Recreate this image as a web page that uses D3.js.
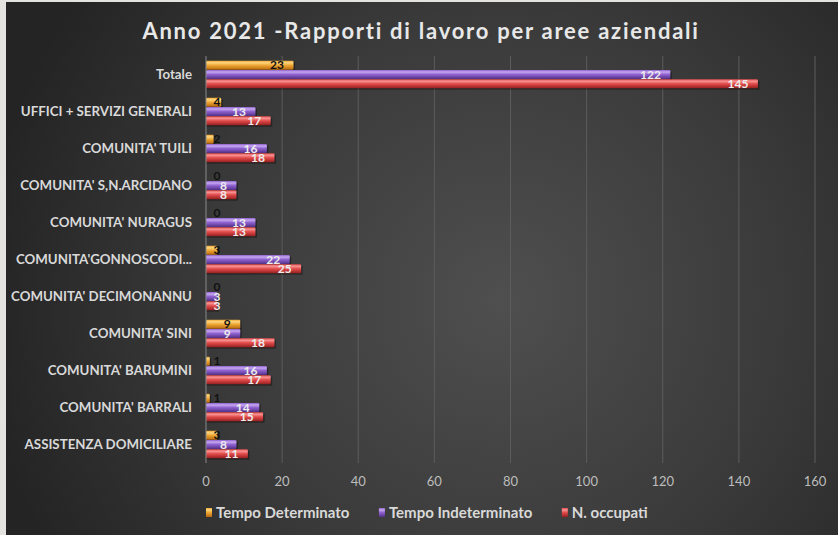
<!DOCTYPE html>
<html>
<head>
<meta charset="utf-8">
<script src="https://cdn.jsdelivr.net/npm/d3@7"></script>
<style>
  html, body { margin: 0; padding: 0; background: #e4e3df; }
  svg { display: block; }
</style>
</head>
<body>
<script>
// categories, top to bottom as in the picture
const categories = [
  "Totale",
  "UFFICI + SERVIZI GENERALI",
  "COMUNITA' TUILI",
  "COMUNITA' S,N.ARCIDANO",
  "COMUNITA' NURAGUS",
  "COMUNITA'GONNOSCODI...",
  "COMUNITA' DECIMONANNU",
  "COMUNITA' SINI",
  "COMUNITA' BARUMINI",
  "COMUNITA' BARRALI",
  "ASSISTENZA DOMICILIARE"
];
const seriesNames = ["Tempo Determinato", "Tempo Indeterminato", "N. occupati"];
const tempoDeterminato   = [23, 4, 2, 0, 0, 3, 0, 9, 1, 1, 3];
const tempoIndeterminato = [122, 13, 16, 8, 13, 22, 3, 9, 16, 14, 8];
const nOccupati          = [145, 17, 18, 8, 13, 25, 3, 18, 17, 15, 11];
const xTicks = [0, 20, 40, 60, 80, 100, 120, 140, 160];

function init() {
  const W = 838, H = 535;
  const font = "Lato, 'Open Sans', sans-serif";

  // colour ramps for the 'cylinder' bars: top light, mid, bottom dark
  const ramps = [
    ["#fcd680", "#efa834", "#b8690f"],
    ["#c6a8f0", "#9062d0", "#523086"],
    ["#f89494", "#e34c4c", "#982020"]
  ];
  const labelColors = ["#111111", "#ececec", "#ececec"];
  const allSeries = [tempoDeterminato, tempoIndeterminato, nOccupati];

  const svg = d3.select("body").append("svg")
    .attr("width", W)
    .attr("height", H);

  const defs = svg.append("defs");

  // dark background with a soft light spot
  const bgGrad = defs.append("radialGradient")
    .attr("id", "bg")
    .attr("gradientUnits", "userSpaceOnUse")
    .attr("cx", 500).attr("cy", 300).attr("r", 520);
  bgGrad.append("stop").attr("offset", "0%").attr("stop-color", "#4f4f4f");
  bgGrad.append("stop").attr("offset", "55%").attr("stop-color", "#3a3a3a");
  bgGrad.append("stop").attr("offset", "100%").attr("stop-color", "#242424");

  ramps.forEach((r, i) => {
    const g = defs.append("linearGradient")
      .attr("id", "bar" + i)
      .attr("x1", 0).attr("y1", 0).attr("x2", 0).attr("y2", 1);
    g.append("stop").attr("offset", "0%").attr("stop-color", r[1]);
    g.append("stop").attr("offset", "22%").attr("stop-color", r[0]);
    g.append("stop").attr("offset", "50%").attr("stop-color", r[1]);
    g.append("stop").attr("offset", "100%").attr("stop-color", r[2]);
  });

  // light textured frame, then the dark chart area
  svg.append("rect")
    .attr("width", W).attr("height", H)
    .attr("fill", "#e4e3df");
  svg.append("rect")
    .attr("x", 6).attr("y", 2)
    .attr("width", W - 6).attr("height", H - 2)
    .attr("fill", "url(#bg)");

  // title
  svg.append("text")
    .attr("x", 421).attr("y", 39)
    .attr("text-anchor", "middle")
    .attr("font-family", font)
    .attr("font-weight", "bold")
    .attr("font-size", 22)
    .attr("letter-spacing", 1.75)
    .attr("fill", "#e8e8e8")
    .text("Anno 2021 -Rapporti di lavoro per aree aziendali");

  // scales
  const x = d3.scaleLinear().domain([0, 160]).range([206, 815]);
  const y = d3.scaleBand().domain(categories).range([56, 463]).paddingInner(0.26).paddingOuter(0.13);
  const ySub = d3.scaleBand().domain(d3.range(3)).range([0, y.bandwidth()]).paddingInner(0.04);

  // gridlines
  svg.append("g").selectAll("line")
    .data(xTicks.slice(1))
    .join("line")
    .attr("x1", d => x(d)).attr("x2", d => x(d))
    .attr("y1", 56).attr("y2", 463)
    .attr("stroke", "#5c5c5c")
    .attr("stroke-width", 1);

  // x tick labels
  svg.append("g").selectAll("text")
    .data(xTicks)
    .join("text")
    .attr("x", d => x(d))
    .attr("y", 486)
    .attr("text-anchor", "middle")
    .attr("font-family", font)
    .attr("font-size", 13)
    .attr("fill", "#bdbdbd")
    .text(d => d);

  // category labels
  svg.append("g").selectAll("text")
    .data(categories)
    .join("text")
    .attr("x", 192)
    .attr("y", d => y(d) + y.bandwidth() / 2 + 4.5)
    .attr("text-anchor", "end")
    .attr("font-family", font)
    .attr("font-weight", "bold")
    .attr("font-size", 13.3)
    .attr("fill", "#d9d9d9")
    .text(d => d);

  // bars
  allSeries.forEach((vals, si) => {
    const g = svg.append("g");
    const rows = categories.map((c, i) => ({ c: c, v: vals[i] }));

    // shadow
    g.selectAll("rect.shadow")
      .data(rows.filter(d => d.v > 0))
      .join("rect")
      .attr("class", "shadow")
      .attr("x", x(0))
      .attr("y", d => y(d.c) + ySub(si) + 1.5)
      .attr("width", d => x(d.v) - x(0) + 1.5)
      .attr("height", ySub.bandwidth())
      .attr("fill", "#000")
      .attr("opacity", 0.35);

    g.selectAll("rect.bar")
      .data(rows.filter(d => d.v > 0))
      .join("rect")
      .attr("class", "bar")
      .attr("x", x(0))
      .attr("y", d => y(d.c) + ySub(si))
      .attr("width", d => x(d.v) - x(0))
      .attr("height", ySub.bandwidth())
      .attr("rx", 1.2)
      .attr("fill", "url(#bar" + si + ")");

    // value labels: inside end, but never left of the axis margin
    g.selectAll("text")
      .data(rows)
      .join("text")
      .attr("y", d => y(d.c) + ySub(si) + ySub.bandwidth() / 2 + 4.2)
      .attr("font-family", font)
      .attr("font-weight", "bold")
      .attr("font-size", 12)
      .attr("fill", labelColors[si])
      .text(d => d.v)
      .each(function(d) {
        const w = this.getComputedTextLength();
        const left = Math.max(x(d.v) - 9.5 - w, 213.5);
        d3.select(this).attr("x", left);
      });
  });

  // vertical axis line
  svg.append("line")
    .attr("x1", x(0)).attr("x2", x(0))
    .attr("y1", 56).attr("y2", 463)
    .attr("stroke", "#8a8a8a")
    .attr("stroke-width", 1);

  // legend
  const legend = svg.append("g");
  let lx = 206;
  seriesNames.forEach((name, i) => {
    legend.append("rect")
      .attr("x", lx).attr("y", 508)
      .attr("width", 6).attr("height", 9)
      .attr("fill", "url(#bar" + i + ")");
    const t = legend.append("text")
      .attr("x", lx + 10).attr("y", 517.5)
      .attr("font-family", font)
      .attr("font-weight", "bold")
      .attr("font-size", 15)
      .attr("fill", "#d9d9d9")
      .text(name);
    lx += 10 + t.node().getComputedTextLength() + 29.5;
  });
}

init();
</script>
</body>
</html>
